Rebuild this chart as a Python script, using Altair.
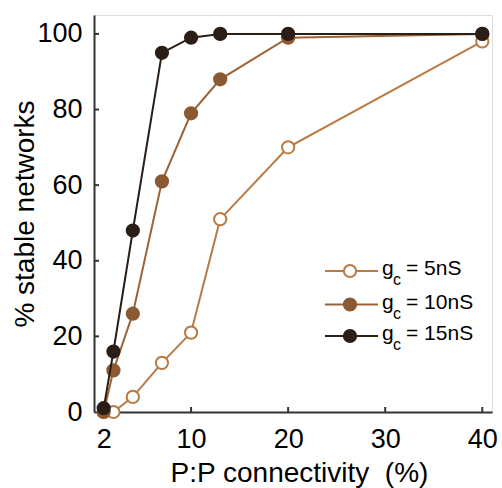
import altair as alt
import pandas as pd

# ---- data ----
x_vals = [1, 2, 4, 7, 10, 13, 20, 40]
series_names = ["5nS", "10nS", "15nS"]
g5 = [0, 0, 4, 13, 21, 51, 70, 98]
g10 = [0, 11, 26, 61, 79, 88, 99, 100]
g15 = [1, 16, 48, 95, 99, 100, 100, 100]
x_tick_vals = [1, 10, 20, 30, 40]
x_tick_labels = ["2", "10", "20", "30", "40"]
y_tick_vals = [0, 20, 40, 60, 80, 100]

line_colors = ["#b97a43", "#9a6438", "#2b1e16"]
fill_colors = ["#ffffff", "#8b5a32", "#2b1e16"]
stroke_colors = ["#b97a43", "#8b5a32", "#2b1e16"]

W, H = 398, 397
FONT = "Liberation Sans"
X_TITLE = "P:P connectivity\u00a0 (%)"
Y_TITLE = "% stable networks"

xscale = alt.Scale(domain=[0, 41], nice=False, zero=False)
yscale = alt.Scale(domain=[0, 105], nice=False, zero=False)

label_expr = " : ".join(
    [f"datum.value == {v} ? '{l}'" for v, l in zip(x_tick_vals, x_tick_labels)] + ["datum.label"]
)

x_axis = alt.Axis(
    values=x_tick_vals, labelExpr=label_expr, title=X_TITLE,
    ticks=False, tickSize=0, grid=False, domainColor="#333333", domainWidth=2,
    labelFontSize=27, labelFont=FONT, labelColor="black", labelPadding=35,
    labelBaseline="alphabetic", labelFlush=False, labelOverlap=False,
    titleFontSize=28, titleFont=FONT, titleFontWeight="normal", titleColor="black",
    titleX=205, titleY=69, titleBaseline="alphabetic", titleAlign="center",
)
y_axis = alt.Axis(
    values=y_tick_vals, title=Y_TITLE,
    ticks=False, tickSize=0, grid=False, domainColor="#333333", domainWidth=2,
    labelFontSize=27, labelFont=FONT, labelColor="black", labelPadding=12,
    labelOverlap=False,
    titleFontSize=28, titleFont=FONT, titleFontWeight="normal", titleColor="black",
    titleX=-61, titleBaseline="alphabetic", titleAngle=-90,
)

def X(field="x"):
    return alt.X(f"{field}:Q", scale=xscale, axis=x_axis, title=X_TITLE)

def Y(field="y"):
    return alt.Y(f"{field}:Q", scale=yscale, axis=y_axis, title=Y_TITLE)

layers = []

# inward tick marks
xt = pd.DataFrame({"x": x_tick_vals[1:]})
layers.append(
    alt.Chart(xt).mark_rule(color="#333333", strokeWidth=2).encode(
        x=X(), y=alt.value(H), y2=alt.value(H - 5),
    )
)
yt = pd.DataFrame({"y": y_tick_vals[1:]})
layers.append(
    alt.Chart(yt).mark_rule(color="#333333", strokeWidth=2).encode(
        y=Y(), x=alt.value(0), x2=alt.value(5),
    )
)

for name, ys, lc, fc, sc in zip(series_names, [g5, g10, g15], line_colors, fill_colors, stroke_colors):
    df = pd.DataFrame({"x": x_vals, "y": ys})
    layers.append(alt.Chart(df).mark_line(color=lc, strokeWidth=2).encode(x=X(), y=Y()))
    layers.append(
        alt.Chart(df).mark_point(filled=True, fill=fc, stroke=sc, strokeWidth=2, size=150, opacity=1)
        .encode(x=X(), y=Y())
    )

# manual legend (with subscript)
legend_rows = [256, 289.5, 321]
for name, row, lc, fc, sc in zip(series_names, legend_rows, line_colors, fill_colors, stroke_colors):
    ldf = pd.DataFrame({"name": [name]})
    layers.append(
        alt.Chart(ldf).mark_rule(color=lc, strokeWidth=2).encode(
            x=alt.value(231), x2=alt.value(284), y=alt.value(row)
        )
    )
    layers.append(
        alt.Chart(ldf).mark_point(filled=True, fill=fc, stroke=sc, strokeWidth=2, size=150, opacity=1).encode(
            x=alt.value(256), y=alt.value(row)
        )
    )
    layers.append(
        alt.Chart(ldf).mark_text(align="left", baseline="alphabetic", fontSize=21, font=FONT, color="black").encode(
            x=alt.value(288), y=alt.value(row + 4), text=alt.value("g")
        )
    )
    layers.append(
        alt.Chart(ldf).mark_text(align="left", baseline="alphabetic", fontSize=16, font=FONT, color="black").encode(
            x=alt.value(299), y=alt.value(row + 14), text=alt.value("c")
        )
    )
    layers.append(
        alt.Chart(ldf).mark_text(align="left", baseline="alphabetic", fontSize=21, font=FONT, color="black").encode(
            x=alt.value(312), y=alt.value(row + 4), text=alt.value(f"= {name}")
        )
    )

chart = alt.layer(*layers).properties(
    width=W, height=H,
    autosize=alt.AutoSizeParams(type="none"),
    padding={"left": 94, "top": 15, "right": 10, "bottom": 76},
).configure_view(stroke=None).configure(background="white")

chart.save("out.html", embed_options={"renderer": "svg", "actions": False})
